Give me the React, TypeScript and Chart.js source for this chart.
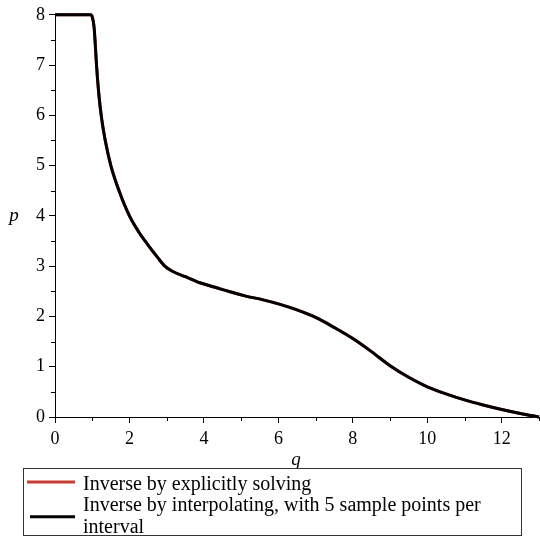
import React, { useEffect, useRef } from "react";
import { Chart, registerables } from "chart.js";

Chart.register(...registerables);

// ---- data ----
const qValues = [
  0, 0.5, 0.95, 1.0, 1.05, 1.12, 1.18, 1.25, 1.35, 1.5, 1.73, 2.0, 2.25, 2.5,
  2.75, 2.95, 3.15, 3.5, 3.89, 4.3, 4.7, 5.1, 5.59, 6.0, 6.5, 7.0, 7.5, 8.0,
  8.5, 9.0, 9.5, 10.0, 10.5, 11.0, 11.5, 12.0, 12.5, 13.0,
];
const pExplicit = [
  8, 8, 8, 7.96, 7.75, 6.95, 6.4, 5.95, 5.5, 5.0, 4.48, 4.0, 3.68, 3.42,
  3.18, 3.0, 2.9, 2.79, 2.67, 2.58, 2.49, 2.41, 2.33, 2.25, 2.13, 1.98, 1.78, 1.56,
  1.3, 1.02, 0.79, 0.6, 0.46, 0.34, 0.24, 0.15, 0.07, 0,
];
const pInterpolated = [
  8, 8, 8, 7.96, 7.75, 6.95, 6.4, 5.95, 5.5, 5.0, 4.48, 4.0, 3.68, 3.42,
  3.18, 3.0, 2.9, 2.79, 2.67, 2.58, 2.49, 2.41, 2.33, 2.25, 2.13, 1.98, 1.78, 1.56,
  1.3, 1.02, 0.79, 0.6, 0.46, 0.34, 0.24, 0.15, 0.07, 0,
];
const seriesLabels = [
  "Inverse by explicitly solving",
  "Inverse by interpolating, with 5 sample points per interval",
];
const seriesColors = ["rgb(200,60,50)", "#000000"];
const xTickValues = [0, 2, 4, 6, 8, 10, 12];
const xMinorTicks = [1, 3, 5, 7, 9, 11, 13];
const yTickValues = [0, 1, 2, 3, 4, 5, 6, 7, 8];
const yMinorTicks = [0.5, 1.5, 2.5, 3.5, 4.5, 5.5, 6.5, 7.5];
const xTitle = "q";
const yTitle = "p";

const FONT = '"Liberation Serif", serif';

const decorPlugin = {
  id: "decor",
  afterDraw(chart: any) {
    const ctx = chart.ctx as CanvasRenderingContext2D;
    const xs = chart.scales.x;
    const ys = chart.scales.y;
    const area = chart.chartArea;
    ctx.save();
    // minor ticks
    ctx.strokeStyle = "#000";
    ctx.lineWidth = 1;
    ctx.beginPath();
    xMinorTicks.forEach((v) => {
      const px = Math.round(xs.getPixelForValue(v)) + 0.5;
      ctx.moveTo(px, area.bottom);
      ctx.lineTo(px, area.bottom + 4);
    });
    yMinorTicks.forEach((v) => {
      const py = Math.round(ys.getPixelForValue(v)) + 0.5;
      ctx.moveTo(area.left - 4, py);
      ctx.lineTo(area.left, py);
    });
    ctx.stroke();

    // axis titles
    ctx.fillStyle = "#000";
    ctx.font = `italic 19px ${FONT}`;
    ctx.textAlign = "center";
    ctx.textBaseline = "alphabetic";
    ctx.fillText(xTitle, (area.left + area.right) / 2 - 1, 465);
    ctx.fillText(yTitle, 14, ys.getPixelForValue(4) + 5);

    // legend
    const bx = 23.5, by = 468.5, bw = 498, bh = 67;
    ctx.strokeStyle = "#333";
    ctx.lineWidth = 1;
    ctx.strokeRect(bx, by, bw, bh);
    ctx.font = `20px ${FONT}`;
    ctx.textAlign = "left";
    const textX = 83;
    const maxW = bx + bw - 4 - textX;
    const lineH = 21.5;
    let baseline = 489.5;
    const datasets = chart.data.datasets;
    datasets.forEach((ds: any, i: number) => {
      const words = String(ds.label).split(" ");
      const lines: string[] = [];
      let cur = "";
      words.forEach((w) => {
        const t = cur ? cur + " " + w : w;
        if (ctx.measureText(t).width > maxW && cur) {
          lines.push(cur);
          cur = w;
        } else cur = t;
      });
      if (cur) lines.push(cur);
      const firstBase = baseline;
      lines.forEach((ln) => {
        ctx.fillStyle = "#000";
        ctx.fillText(ln, textX, baseline);
        baseline += lineH;
      });
      const midY =
        firstBase - 7.5 + ((lines.length - 1) * lineH) / 2 + (lines.length > 1 ? 2.5 : 0);
      ctx.strokeStyle = ds.borderColor;
      ctx.lineWidth = 3;
      ctx.beginPath();
      ctx.moveTo(i === 0 ? 27 : 30, midY);
      ctx.lineTo(75, midY);
      ctx.stroke();
    });
    ctx.restore();
  },
};

export default function App() {
  const ref = useRef<HTMLCanvasElement | null>(null);
  useEffect(() => {
    if (!ref.current) return;
    const chart = new Chart(ref.current, {
      type: "line",
      data: {
        datasets: [
          {
            label: seriesLabels[0],
            data: qValues.map((q, i) => ({ x: q, y: pExplicit[i] })),
            borderColor: seriesColors[0],
            borderWidth: 3,
            pointRadius: 0,
            cubicInterpolationMode: "monotone",
            clip: false as any,
            order: 1,
          },
          {
            label: seriesLabels[1],
            data: qValues.map((q, i) => ({ x: q, y: pInterpolated[i] })),
            borderColor: seriesColors[1],
            borderWidth: 3,
            pointRadius: 0,
            cubicInterpolationMode: "monotone",
            clip: false as any,
            order: 0,
          },
        ],
      },
      options: {
        animation: false,
        responsive: false,
        devicePixelRatio: 1,
        layout: { padding: { top: 14, right: 1, left: 0, bottom: 0 } },
        plugins: { legend: { display: false }, tooltip: { enabled: false } },
        scales: {
          x: {
            type: "linear",
            min: 0,
            max: 13,
            afterBuildTicks: (s: any) => {
              s.ticks = xTickValues.map((v) => ({ value: v }));
            },
            afterFit: (s: any) => {
              s.height = 133;
            },
            border: { display: true, color: "#000", width: 1 },
            grid: { display: true, drawOnChartArea: false, drawTicks: true, tickLength: 6, color: "#000" },
            ticks: { color: "#000", font: { family: FONT, size: 18 }, padding: 5, maxRotation: 0 },
          },
          y: {
            type: "linear",
            min: 0,
            max: 8,
            afterBuildTicks: (s: any) => {
              s.ticks = yTickValues.map((v) => ({ value: v }));
            },
            afterFit: (s: any) => {
              s.width = 55;
            },
            border: { display: true, color: "#000", width: 1 },
            grid: { display: true, drawOnChartArea: false, drawTicks: true, tickLength: 6, color: "#000" },
            ticks: { color: "#000", font: { family: FONT, size: 18 }, padding: 4 },
          },
        },
      },
      plugins: [decorPlugin],
    });
    return () => chart.destroy();
  }, []);
  return (
    <div style={{ position: "absolute", left: 0, top: 0, width: 540, height: 550, background: "#fff" }}>
      <canvas ref={ref} width={540} height={550} />
    </div>
  );
}
